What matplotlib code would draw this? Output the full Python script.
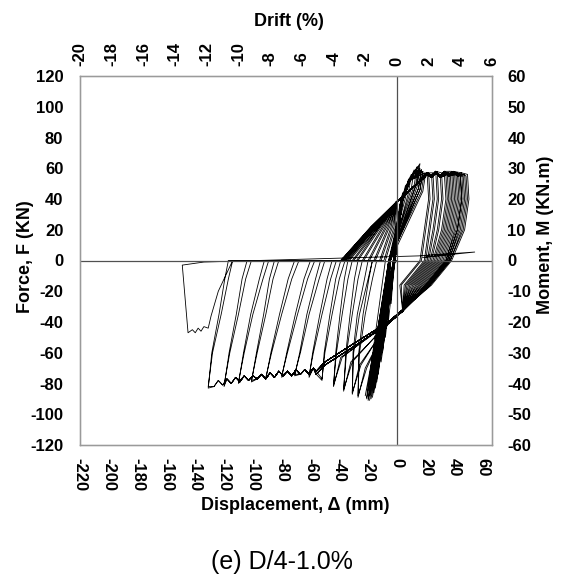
import numpy as np
import matplotlib.pyplot as plt

plt.rcParams['font.family'] = ['Liberation Sans', 'DejaVu Sans']
plt.rcParams['axes.unicode_minus'] = False

# ---- values (displacement in mm, force in kN) ----

# small near-elastic cycles around the origin
small_neg_d = [-4, -6, -8, -10, -11, -13, -14, -15, -16, -17, -18, -19, -19, -20, -21, -22, -20, -21]
small_neg_f = [-28, -40, -50, -60, -66, -74, -79, -83, -86, -89, -90, -91, -88, -91, -90, -88, -90, -89]
small_pos_d = [0, 1, 2, 4, 6, 8, 10, 12, 14, 16, 15, 17, 16, 18, 19, 20, 17, 18]
small_pos_f = [20, 30, 36, 44, 49, 53, 56, 59, 61, 63, 61, 59, 60, 58, 57, 57, 59, 58]

# larger cycles (two per amplitude)
neg_d = [-27, -31, -37, -44, -52, -61, -71, -80, -91, -101, -110, -120, -131]
neg_f = [-88, -86, -84, -81, -77, -75, -74, -75, -76, -78, -79, -81, -82]
neg_low_d = [-26, -30, -35, -42, -50, -58, -67, -76, -87, -97, -106, -116, -128]  # F = -60
neg_mid_d = [-22, -26, -31, -38, -45, -52, -61, -69, -80, -91, -100, -110, -122]  # F = -35
neg_top_d = [-17, -20, -27, -34, -40, -46, -54, -62, -73, -86, -93, -105, -117]  # F = -12
neg_zero_d = [-14, -17, -24, -31, -36, -42, -50, -57, -68, -82, -89, -101, -114]
slip_end_d = [-8, -11, -15, -19, -23, -27, -30, -33, -35, -36, -37, -38, -38]
rise_mid_d = [-1, -3, -5, -7, -9, -11, -12, -13, -14, -15, -16, -17, -17]  # F = 22
pos_d = [22, 25, 28, 31, 34, 36, 38, 40, 42, 44, 45, 47, 49]
pos_f = [57, 57, 58, 57, 56, 57, 58, 57, 57, 56, 57, 56, 56]
unl_zero_d = [17, 20, 22, 24, 26, 28, 30, 32, 34, 35, 36, 37, 38]

# serrated top of the positive peaks
top_d = [18, 21, 24, 27, 30, 33, 36, 39, 42, 45, 48]
top_f = [54, 57, 55, 58, 55, 58, 56, 58, 56, 57, 56]

# shared pinch points
down_pinch_d = [4, -6]
down_pinch_f = [-32, -40]
fan_d = [-30, -50, -56]
fan_f = [-54, -66, -72]

# serrated negative envelope
env_d = [-58, -61, -64, -67, -70, -73, -76, -79, -82, -85, -88, -91, -94, -97,
         -100, -103, -106, -109, -112, -115, -118, -121, -124, -127, -130]
env_f = [-70, -74, -71, -74, -71, -75, -72, -75, -72, -76, -73, -77, -74, -77,
         -75, -78, -75, -79, -76, -80, -77, -81, -78, -82, -79]

# last pull and final slip spike
last_d = [-114, -124, -129, -130, -131, -134, -136, -138, -140, -142, -145, -149, -134]
last_f = [0, -20, -36, -40, -44, -43, -46, -44, -47, -45, -47, -3, -1]
spike_d = [15, 54, 18]
spike_f = [3, 5.5, 2]

# ---- build the trace ----
D, F = [0.0], [0.0]


def add(d, f):
    D.append(d)
    F.append(f)


for k, (nd, nf, pd_, pf) in enumerate(zip(small_neg_d, small_neg_f, small_pos_d, small_pos_f)):
    o = (k % 3) * 0.6
    add(-2.5 + o, 0)
    if pf > 38:
        add(2.5 + o, 38)
    if pf > 52:
        add(8 + o, 52)
    add(pd_, pf)
    add(pd_ - 2, pf - 12)
    add(-4.5 - o, 0)
    add(nd, nf)

for i in range(len(neg_d)):
    for r in range(2):
        add(slip_end_d[i] - r, 0)
        add(rise_mid_d[i] - r, 22)
        add(-0.5 * r, 38)
        add(14, 50)
        for td, tf in zip(top_d, top_f):
            if td < pos_d[i] - 3:
                add(td, tf - r)
        add(pos_d[i] - r, pos_f[i] - r)
        add(pos_d[i] + 1 - r, 40)
        add(pos_d[i] - 2 - r, 20)
        add(unl_zero_d[i] - r, 0)
        add(unl_zero_d[i] - 14 - r, -16)
        for pd2, pf2 in zip(down_pinch_d, down_pinch_f):
            add(pd2, pf2 - r)
        if neg_d[i] > -50:
            add(neg_d[i] + 6 - r, neg_f[i] + 18)
        else:
            for fd, ff in zip(fan_d, fan_f):
                add(fd, ff - 2 * r)
            for ed, ef in zip(env_d, env_f):
                if ed > neg_d[i] + 1:
                    add(ed, ef)
        add(neg_d[i], neg_f[i] - r)
        add(neg_low_d[i] - 0.5 * r, -60)
        add(neg_mid_d[i] - 1.5 * r, -35)
        add(neg_top_d[i] - 2.5 * r, -12)
        add(neg_zero_d[i] - 3 * r, 0)

for d, f in zip(last_d, last_f):
    add(d, f)
for d, f in zip(spike_d, spike_f):
    add(d, f)

# ---- figure ----
fig = plt.figure(figsize=(5.65, 5.86), dpi=100)
ax = fig.add_axes([80 / 565, 1 - 445 / 586, 412 / 565, 369 / 586])
ax.plot(D, F, color='black', lw=0.6)
ax.axhline(0, color='#505050', lw=0.9)
ax.axvline(0, color='#505050', lw=0.9)

tick_font = dict(fontsize=12, fontweight='bold')
ax.set_xlim(-220, 66)
ax.set_ylim(-120, 120)
ax.set_xticks(range(-220, 61, 20))
ax.set_yticks(range(-120, 121, 20))
ax.set_xticklabels([str(v) for v in range(-220, 61, 20)], rotation=270, **tick_font)
ax.set_yticklabels([str(v) for v in range(-120, 121, 20)], **tick_font)
ax.tick_params(axis='x', length=0, pad=9)
ax.tick_params(axis='y', length=0, pad=12)
for sp in ax.spines.values():
    sp.set_color('#9a9a9a')
    sp.set_linewidth(1.0)

ax2 = ax.twinx()
ax2.set_ylim(-60, 60)
ax2.set_yticks(range(-60, 61, 10))
ax2.set_yticklabels([str(v) for v in range(-60, 61, 10)], **tick_font)
ax2.tick_params(axis='y', length=0, pad=11)

ax3 = ax.twiny()
ax3.set_xlim(-20, 6)
ax3.set_xticks(range(-20, 7, 2))
ax3.set_xticklabels([str(v) for v in range(-20, 7, 2)], rotation=90, **tick_font)
ax3.tick_params(axis='x', length=0, pad=7)
for a in (ax2, ax3):
    for sp in a.spines.values():
        sp.set_color('#9a9a9a')

title_font = dict(fontsize=13, fontweight='bold')
fig.text(26 / 565, 1 - 257 / 586, 'Force, F (KN)', rotation=90, ha='center',
         va='center', **title_font)
fig.text(545 / 565, 1 - 235 / 586, 'Moment, M (KN.m)', rotation=90, ha='center',
         va='center', **title_font)
fig.text(295 / 565, 1 - 506 / 586, 'Displacement, Δ (mm)', ha='center',
         va='center', **title_font)
fig.text(289 / 565, 1 - 22 / 586, 'Drift (%)', ha='center', va='center',
         **title_font)
fig.text(282 / 565, 1 - 562 / 586, '(e) D/4-1.0%', ha='center', va='center',
         fontsize=18)

fig.savefig('out.png', dpi=100)
